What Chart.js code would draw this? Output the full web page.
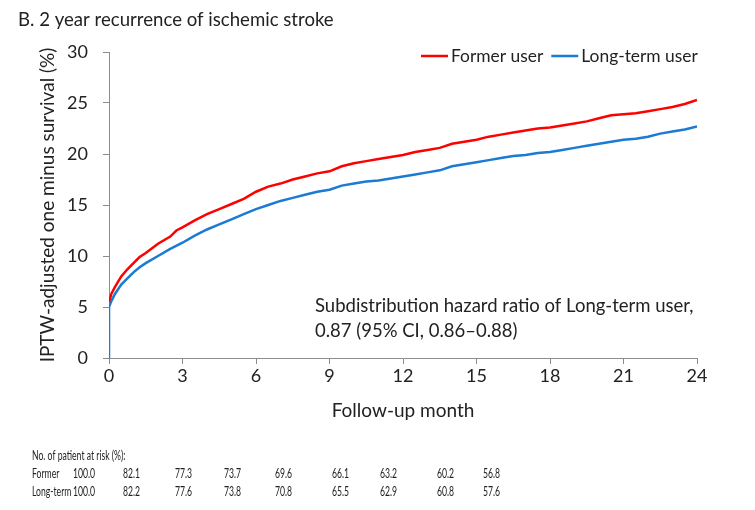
<!DOCTYPE html>
<html>
<head>
<meta charset="utf-8">
<script src="https://cdn.jsdelivr.net/npm/chart.js@4.4.1/dist/chart.umd.min.js"></script>
<style>
  html, body { margin: 0; padding: 0; background: #fff; }
  #wrap { width: 755px; height: 510px; position: relative; }
</style>
</head>
<body>
<div id="wrap"><canvas id="myChart" width="755" height="510"></canvas></div>
<script>
// curve readings (month, %)
const formerMonths = [0, 0.1, 0.25, 0.5, 0.75, 1, 1.25, 1.5, 2, 2.5, 2.75, 3, 3.5, 4, 4.5, 5, 5.5, 6, 6.5, 7, 7.5, 8, 8.5, 9, 9.5, 10, 10.5, 11, 11.5, 12, 12.5, 13, 13.5, 14, 14.5, 15, 15.5, 16, 16.5, 17, 17.5, 18, 18.5, 19, 19.5, 20, 20.5, 21, 21.5, 22, 22.5, 23, 23.5, 24];
const formerValues = [5.5, 6.3, 7.0, 8.0, 8.7, 9.3, 9.9, 10.3, 11.2, 11.9, 12.5, 12.8, 13.5, 14.1, 14.6, 15.1, 15.6, 16.3, 16.8, 17.1, 17.5, 17.8, 18.1, 18.3, 18.8, 19.1, 19.3, 19.5, 19.7, 19.9, 20.2, 20.4, 20.6, 21.0, 21.2, 21.4, 21.7, 21.9, 22.1, 22.3, 22.5, 22.6, 22.8, 23.0, 23.2, 23.5, 23.8, 23.9, 24.0, 24.2, 24.4, 24.6, 24.9, 25.3];
const longMonths = [0, 0, 0.1, 0.25, 0.5, 0.75, 1, 1.25, 1.5, 2, 2.5, 3, 3.5, 4, 4.5, 5, 5.5, 6, 6.5, 7, 7.5, 8, 8.5, 9, 9.5, 10, 10.5, 11, 11.5, 12, 12.5, 13, 13.5, 14, 14.5, 15, 15.5, 16, 16.5, 17, 17.5, 18, 18.5, 19, 19.5, 20, 20.5, 21, 21.5, 22, 22.5, 23, 23.5, 24];
const longValues = [0, 5.0, 5.6, 6.3, 7.2, 7.8, 8.4, 8.9, 9.3, 10.0, 10.7, 11.3, 12.0, 12.6, 13.1, 13.6, 14.1, 14.6, 15.0, 15.4, 15.7, 16.0, 16.3, 16.5, 16.9, 17.1, 17.3, 17.4, 17.6, 17.8, 18.0, 18.2, 18.4, 18.8, 19.0, 19.2, 19.4, 19.6, 19.8, 19.9, 20.1, 20.2, 20.4, 20.6, 20.8, 21.0, 21.2, 21.4, 21.5, 21.7, 22.0, 22.2, 22.4, 22.7];

const seriesLabels = ['Former user', 'Long-term user'];
const xTicks = [0, 3, 6, 9, 12, 15, 18, 21, 24];

// at-risk table
const riskHeader = 'No. of patient at risk (%):';
const riskRowLabels = ['Former', 'Long-term'];
const riskFormer = ['100.0', '82.1', '77.3', '73.7', '69.6', '66.1', '63.2', '60.2', '56.8'];
const riskLong = ['100.0', '82.2', '77.6', '73.8', '70.8', '65.5', '62.9', '60.8', '57.6'];

const titleText = 'B. 2 year recurrence of ischemic stroke';
const noteLines = ['Subdistribution hazard ratio of Long-term user,', '0.87 (95% CI, 0.86\u20130.88)'];

const RED = '#ff0000';
const BLUE = '#1a7ad4';
const FONT = 'Lato, "Open Sans", sans-serif';
const AXIS = '#8c8c8c';

function toPoints(xs, ys) {
    return xs.map((x, i) => ({ x: x, y: ys[i] }));
}

// text outside the plot: title, legend, note and risk table
const extrasPlugin = {
    id: 'extras',
    afterDraw(chart) {
        const c = chart.ctx;
        c.save();
        c.fillStyle = '#222';
        c.textBaseline = 'middle';

        c.font = '18.6px ' + FONT;
        c.textAlign = 'left';
        c.fillText(titleText, 18, 20);

        // legend
        c.font = '17.4px ' + FONT;
        let lx = 421;
        chart.data.datasets.forEach(ds => {
            c.strokeStyle = ds.borderColor;
            c.lineWidth = 2.5;
            c.beginPath();
            c.moveTo(lx, 56);
            c.lineTo(lx + 27, 56);
            c.stroke();
            c.fillText(ds.label, lx + 30, 56);
            lx += 30 + c.measureText(ds.label).width + 8;
        });

        // note
        c.font = '18.5px ' + FONT;
        c.fillText(noteLines[0], 315, 306);
        c.fillText(noteLines[1], 315, 331);

        // risk table, narrow font
        const colX = [73, 123, 175, 224, 275, 332, 380, 437, 483];
        const drawNarrow = (txt, x, y) => {
            c.save();
            c.translate(x, y);
            c.scale(0.64, 1);
            c.fillText(txt, 0, 0);
            c.restore();
        };
        c.font = '13.5px ' + FONT;
        drawNarrow(riskHeader, 32, 456);
        drawNarrow(riskRowLabels[0], 32, 474);
        drawNarrow(riskRowLabels[1], 32, 492);
        riskFormer.forEach((v, i) => drawNarrow(v, colX[i], 474));
        riskLong.forEach((v, i) => drawNarrow(v, colX[i], 492));
        c.restore();
    }
};

const ctx = document.getElementById('myChart').getContext('2d');
const survivalChart = new Chart(ctx, {
    type: 'line',
    data: {
        datasets: [{
            label: seriesLabels[0],
            data: toPoints(formerMonths, formerValues),
            borderColor: RED,
            backgroundColor: RED,
            borderWidth: 2.5,
            pointRadius: 0,
            tension: 0,
            order: 0
        }, {
            label: seriesLabels[1],
            data: toPoints(longMonths, longValues),
            borderColor: BLUE,
            backgroundColor: BLUE,
            borderWidth: 2.5,
            pointRadius: 0,
            tension: 0,
            order: 1
        }]
    },
    options: {
        responsive: false,
        animation: false,
        layout: { padding: { left: 32, right: 58, top: 52, bottom: 84 } },
        plugins: {
            legend: { display: false },
            tooltip: { enabled: false }
        },
        scales: {
            x: {
                type: 'linear',
                min: 0,
                max: 24,
                afterBuildTicks: (s) => { s.ticks = xTicks.map(v => ({ value: v })); },
                afterFit: (s) => { s.height = 68; },
                grid: { drawOnChartArea: false, drawTicks: true, tickLength: 6, color: AXIS },
                border: { color: AXIS, width: 1 },
                ticks: { color: '#222', font: { family: FONT, size: 18 }, padding: 1, maxRotation: 0 },
                title: { display: true, text: 'Follow-up month', color: '#222', font: { family: FONT, size: 19 } }
            },
            y: {
                min: 0,
                max: 30,
                afterFit: (s) => { s.width = 77; },
                grid: { drawOnChartArea: false, drawTicks: true, tickLength: 6, color: AXIS },
                border: { color: AXIS, width: 1 },
                ticks: { stepSize: 5, color: '#222', font: { family: FONT, size: 18 }, padding: 15 },
                title: { display: true, text: 'IPTW-adjusted one minus survival (%)', color: '#222', font: { family: FONT, size: 19 } }
            }
        }
    },
    plugins: [extrasPlugin]
});
</script>
</body>
</html>
